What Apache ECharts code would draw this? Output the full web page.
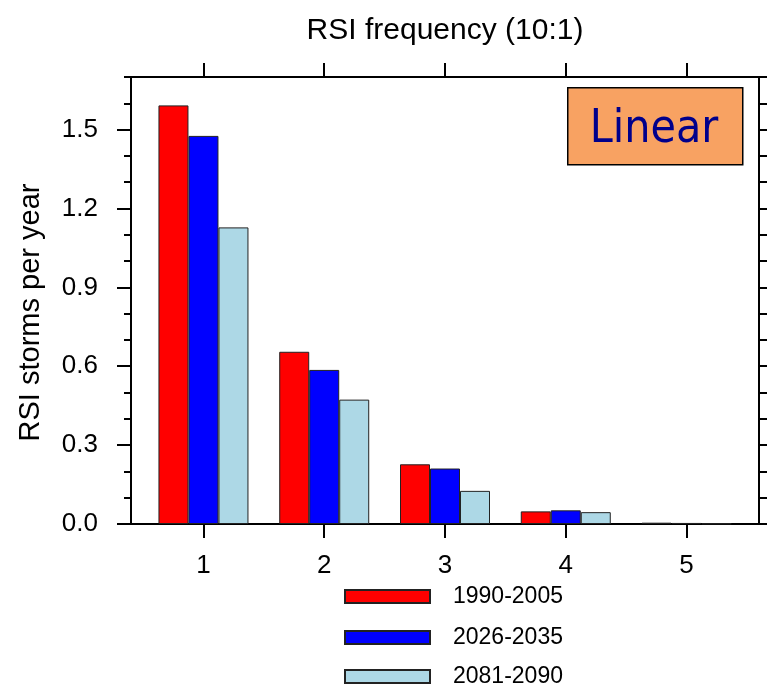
<!DOCTYPE html>
<html>
<head>
<meta charset="utf-8">
<script src="https://cdn.jsdelivr.net/npm/echarts@6/dist/echarts.min.js"></script>
<style>html,body{margin:0;padding:0;background:#fff}#c{width:767px;height:687px}</style>
</head>
<body>
<div id="c"></div>
<script>
var categories = [1, 2, 3, 4, 5];
var seriesNames = ['1990-2005', '2026-2035', '2081-2090'];
var s1990 = [1.592, 0.655, 0.227, 0.048, 0.005];
var s2026 = [1.476, 0.586, 0.211, 0.052, 0.004];
var s2081 = [1.128, 0.473, 0.126, 0.045, 0.002];
var yTickLabels = [0, 0.3, 0.6, 0.9, 1.2, 1.5];

var FONT = '"Liberation Sans", Arial, Helvetica, sans-serif';
var chart = echarts.init(document.getElementById('c'), null, {renderer: 'canvas'});

function pairs(vals) { return categories.map(function (c, i) { return [c, vals[i]]; }); }
var colors = ['#FF0000', '#0000FF', '#ADD8E6'];
var allVals = [s1990, s2026, s2081];

var series = seriesNames.map(function (n, i) {
  return {
    name: n, type: 'bar', xAxisIndex: 0, yAxisIndex: 0,
    data: pairs(allVals[i]), barWidth: 30, barGap: '0%',
    itemStyle: {color: colors[i], borderColor: '#222', borderWidth: 1},
    emphasis: {disabled: true}, animation: false
  };
});

var legendTops = [585, 626, 665];
var legends = seriesNames.map(function (n, i) {
  return {
    orient: 'vertical', left: 344, top: legendTops[i], padding: 0,
    itemWidth: 85, itemHeight: 13, icon: 'rect', selectedMode: false,
    textStyle: {fontFamily: FONT, fontSize: 23, color: '#000', lineHeight: 22, padding: [0, 0, 0, 18]},
    data: [n]
  };
});

var lineStyle = {color: '#000', width: 2};
chart.setOption({
  animation: false,
  title: {
    text: 'RSI frequency (10:1)', left: 440, top: 11, textAlign: 'center',
    textStyle: {fontFamily: FONT, fontSize: 30, fontWeight: 'normal', color: '#000'}
  },
  grid: {left: 131, top: 77, right: 8, bottom: 163, containLabel: false},
  legend: legends,
  xAxis: [{
    type: 'value', position: 'bottom', min: 0.4, max: 5.6,
    axisLine: {show: true, onZero: false, lineStyle: lineStyle},
    axisTick: {show: true, inside: false, length: 14, lineStyle: lineStyle, customValues: categories},
    axisLabel: {show: true, margin: 29, fontFamily: FONT, fontSize: 26, color: '#000', customValues: categories},
    splitLine: {show: false}
  }, {
    type: 'value', position: 'top', min: 0.4, max: 5.6,
    axisLine: {show: true, onZero: false, lineStyle: lineStyle},
    axisTick: {show: true, inside: false, length: 14, lineStyle: lineStyle, customValues: categories},
    axisLabel: {show: false},
    splitLine: {show: false}
  }],
  yAxis: [{
    type: 'value', position: 'left', min: 0, max: 1.7,
    name: 'RSI storms per year', nameLocation: 'middle', nameGap: 86, nameRotate: 90,
    nameTextStyle: {fontFamily: FONT, fontSize: 29, color: '#000', padding: [0, 24, 0, 0]},
    axisLine: {show: true, onZero: false, lineStyle: lineStyle},
    axisTick: {show: true, inside: false, length: 14, lineStyle: lineStyle, customValues: yTickLabels},
    axisLabel: {show: true, margin: 33, fontFamily: FONT, fontSize: 26, color: '#000', customValues: yTickLabels,
      formatter: function (v) { return v.toFixed(1); }},
    splitLine: {show: false}
  }, {
    type: 'value', position: 'left', offset: 0, min: 0, max: 1.7, interval: 0.1,
    axisLine: {show: false},
    axisTick: {show: true, inside: false, length: 7, lineStyle: lineStyle},
    axisLabel: {show: false}, splitLine: {show: false}
  }, {
    type: 'value', position: 'right', offset: 0, min: 0, max: 1.7, interval: 0.1,
    axisLine: {show: true, onZero: false, lineStyle: lineStyle},
    axisTick: {show: true, inside: false, length: 8, lineStyle: lineStyle},
    axisLabel: {show: false}, splitLine: {show: false}
  }],
  graphic: [{
    type: 'rect', left: 567, top: 87, z: 100,
    shape: {width: 175, height: 77},
    style: {fill: '#F8A262', stroke: '#000', lineWidth: 1.5}
  }, {
    type: 'text', x: 654, y: 130, z: 101,
    style: {text: 'Linear', fill: '#00008B', font: '46px "DejaVu Sans Condensed", "DejaVu Sans", sans-serif',
      align: 'center', verticalAlign: 'middle'}
  }],
  series: series
});
</script>
</body>
</html>
